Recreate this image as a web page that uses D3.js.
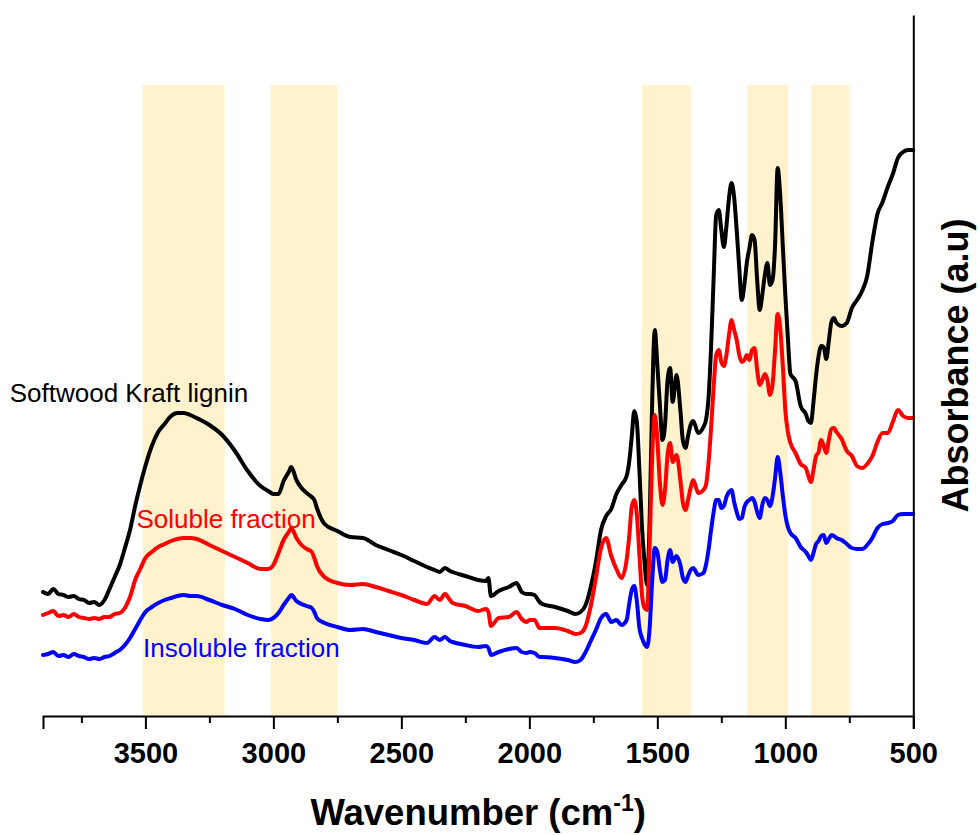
<!DOCTYPE html>
<html>
<head>
<meta charset="utf-8">
<script src="https://cdn.jsdelivr.net/npm/d3@7"></script>
<style>
  html, body { margin: 0; padding: 0; background: #fff; }
  svg { display: block; font-family: "Liberation Sans", Arial, sans-serif; }
</style>
</head>
<body>
<svg id="chart" width="980" height="835"></svg>
<script>
// FTIR spectra of softwood Kraft lignin and its two fractions (absorbance, arbitrary units)
const wavenumbers = [
  3900,3880,3860,3840,3820,3800,3780,3760,3740,3720,3700,3680,3660,3640,3620,3600,
  3580,3560,3540,3520,3500,
  3475,3450,3425,3400,3375,3350,3325,3300,
  3250,3200,3150,3100,3050,
  3020,3000,2980,2960,2940,2930,2910,2890,2870,2850,2840,2830,2800,
  2750,2700,2650,2600,2550,2500,2450,2400,
  2370,2350,2330,2310,2300,2250,2200,2170,2160,2150,2120,2080,2050,2030,2010,2000,1980,1960,1950,1900,1850,1820,1800,
  1780,1760,1740,1720,1700,1680,1660,1640,1620,
  1610,1600,1590,1580,1570,1560,1550,1540,1530,1520,1510,1500,1490,1480,1470,1460,1450,1440,
  1425,1410,1400,1390,1380,1370,1360,1340,1320,1310,
  1300,1290,1280,1270,1260,1250,1240,1230,1220,1210,1200,1190,1180,1170,1160,1150,1140,1130,1120,1110,1100,1090,1080,1070,1060,1050,1040,1030,1020,1010,1000,
  990,980,960,940,920,910,900,890,880,870,860,850,840,830,820,810,800,
  780,760,740,720,700,680,660,640,620,600,580,560,540,520,500
];

const kraftLignin = [
  .124,.122,.127,.122,.121,.119,.120,.117,.116,.113,.114,.111,.116,.127,.139,.151,
  .168,.186,.210,.231,.250,
  .270,.284,.292,.300,.303,.303,.301,.298,
  .291,.281,.265,.245,.230,
  .225,.222,.222,.235,.244,.249,.236,.228,.223,.219,.216,.208,.192,
  .185,.179,.178,.171,.166,.161,.155,.149,
  .146,.144,.148,.145,.144,.140,.136,.135,.138,.120,.125,.129,.133,.124,.122,.122,.121,.114,.112,.109,.105,.102,.104,
  .111,.129,.154,.186,.200,.207,.222,.231,.240,
  .254,.279,.305,.294,.246,.189,.154,.131,.196,.316,.386,.351,.311,.276,.291,.336,.348,.314,
  .341,.306,.275,.268,.280,.291,.295,.283,.289,.296,
  .318,.369,.438,.501,.506,.486,.469,.490,.518,.533,.519,.486,.448,.416,.431,.454,.468,.481,.476,.436,.406,.421,.441,.453,.431,.436,.471,.548,.521,.471,.421,
  .378,.342,.335,.310,.302,.295,.293,.314,.340,.360,.370,.369,.357,.375,.394,.398,.393,
  .390,.393,.408,.416,.425,.440,.474,.502,.514,.529,.542,.558,.564,.566,.566
];

const solubleFraction = [
  .101,.103,.105,.100,.101,.099,.102,.099,.098,.097,.098,.097,.099,.099,.102,.103,
  .108,.119,.136,.147,.158,
  .164,.169,.172,.175,.177,.178,.178,.177,
  .171,.165,.159,.153,.147,
  .147,.151,.163,.176,.184,.188,.178,.171,.167,.164,.158,.150,.139,
  .133,.131,.132,.129,.125,.121,.116,.112,
  .120,.116,.122,.116,.113,.110,.105,.107,.104,.090,.098,.099,.104,.097,.094,.096,.096,.088,.088,.088,.085,.082,.083,
  .090,.110,.138,.168,.178,.160,.147,.138,.156,
  .179,.209,.216,.201,.161,.121,.108,.106,.171,.261,.301,.276,.233,.211,.226,.261,.273,.254,
  .261,.236,.213,.206,.216,.228,.236,.223,.226,.231,
  .253,.288,.329,.361,.366,.354,.350,.361,.381,.396,.386,.376,.361,.354,.356,.361,.356,.366,.368,.346,.331,.336,.342,.336,.321,.331,.366,.402,.388,.351,.306,
  .284,.273,.263,.252,.248,.240,.234,.246,.260,.264,.276,.270,.263,.276,.287,.288,.284,
  .277,.265,.260,.250,.248,.252,.260,.274,.283,.283,.294,.306,.300,.298,.298
];

const insolubleFraction = [
  .061,.062,.064,.060,.061,.059,.062,.060,.059,.057,.058,.057,.059,.060,.063,.066,
  .071,.078,.087,.096,.104,
  .109,.113,.116,.118,.120,.121,.120,.120,
  .116,.111,.107,.101,.097,
  .096,.098,.103,.111,.118,.121,.115,.112,.110,.108,.104,.098,.093,
  .089,.086,.087,.084,.081,.078,.076,.073,
  .079,.076,.079,.075,.074,.071,.069,.070,.068,.061,.064,.067,.068,.064,.063,.064,.063,.059,.059,.058,.056,.054,.056,
  .064,.075,.086,.098,.102,.094,.096,.091,.096,
  .112,.126,.130,.115,.088,.078,.072,.069,.088,.136,.168,.164,.146,.134,.136,.156,.166,.154,
  .160,.151,.138,.134,.140,.146,.148,.141,.143,.151,
  .166,.186,.204,.216,.216,.208,.210,.219,.224,.226,.214,.204,.197,.198,.209,.214,.216,.218,.214,.204,.198,.211,.218,.216,.210,.219,.238,.259,.244,.221,.201,
  .189,.183,.178,.169,.164,.160,.156,.163,.172,.175,.180,.181,.173,.177,.181,.180,.178,
  .176,.172,.168,.167,.167,.171,.178,.188,.192,.193,.195,.201,.202,.202,.202
];

// Highlighted absorption regions (cm-1)
const bandRanges = [[3510, 3190], [3010, 2750], [1560, 1370], [1150, 990], [900, 750]];
const bandTop = 0.631;

const majorTicks = [3500, 3000, 2500, 2000, 1500, 1000, 500];
const minorTicks = [3750, 3250, 2750, 2250, 1750, 1250, 750];

const seriesNames = ["Softwood Kraft lignin", "Soluble fraction", "Insoluble fraction"];
const seriesColors = ["#000000", "#ff0000", "#0000ff"];
// label anchor points (wavenumber, absorbance)
const labelWavenumbers = [4030, 3535, 3509];
const labelValues = [0.314, 0.188, 0.059];

const margin = { top: 15, right: 67, bottom: 119, left: 43 };
const width = 980, height = 835;
const svg = d3.select("#chart");

const x = d3.scaleLinear().domain([3900, 500]).range([margin.left, width - margin.right + 0.3]);
const y = d3.scaleLinear().domain([0, 0.701]).range([height - margin.bottom, margin.top]);

// shaded bands
svg.append("g").selectAll("rect")
  .data(bandRanges)
  .join("rect")
  .attr("x", d => x(d[0]))
  .attr("width", d => x(d[1]) - x(d[0]))
  .attr("y", y(bandTop))
  .attr("height", y(0) - y(bandTop))
  .attr("fill", "#fff2cc");

// spectra
const series = [kraftLignin, solubleFraction, insolubleFraction];
const line = d3.line()
  .x((d, i) => x(wavenumbers[i]))
  .y(d => y(d))
  .curve(d3.curveMonotoneX);

svg.append("g").selectAll("path")
  .data(series)
  .join("path")
  .attr("d", d => line(d))
  .attr("fill", "none")
  .attr("stroke", (d, i) => seriesColors[i])
  .attr("stroke-width", 4)
  .attr("stroke-linejoin", "round")
  .attr("stroke-linecap", "round");

// series labels
svg.append("g").selectAll("text")
  .data(seriesNames)
  .join("text")
  .attr("x", (d, i) => x(labelWavenumbers[i]))
  .attr("y", (d, i) => y(labelValues[i]))
  .attr("fill", (d, i) => seriesColors[i])
  .attr("font-size", 26)
  .text(d => d);

// bottom axis: major ticks with labels
const xAxis = svg.append("g")
  .attr("transform", `translate(0,${y(0)})`)
  .call(d3.axisBottom(x).tickValues(majorTicks).tickSize(13).tickPadding(13).tickFormat(d3.format("d")));
xAxis.select(".domain").attr("stroke-width", 2);
xAxis.selectAll(".tick line").attr("stroke-width", 2);
xAxis.selectAll(".tick text")
  .attr("font-size", 29)
  .attr("font-weight", "bold")
  .attr("font-family", "Liberation Sans, Arial, sans-serif")
  .attr("fill", "#000");

// bottom axis: minor ticks
const xMinor = svg.append("g")
  .attr("transform", `translate(0,${y(0)})`)
  .call(d3.axisBottom(x).tickValues(minorTicks).tickSize(7).tickFormat(""));
xMinor.select(".domain").remove();
xMinor.selectAll(".tick line").attr("stroke-width", 2);

// right axis line (no ticks)
const yAxis = svg.append("g")
  .attr("transform", `translate(${x(500)},0)`)
  .call(d3.axisRight(y).tickValues([]).tickSizeOuter(0));
yAxis.select(".domain").attr("stroke-width", 2);

// axis titles
const xTitle = svg.append("text")
  .attr("x", (x(3900) + x(500)) / 2)
  .attr("y", 825)
  .attr("text-anchor", "middle")
  .attr("font-size", 36.5)
  .attr("font-weight", "bold");
xTitle.append("tspan").text("Wavenumber (cm");
xTitle.append("tspan").attr("font-size", 23).attr("dy", -14).text("-1");
xTitle.append("tspan").attr("dy", 14).text(")");

svg.append("text")
  .attr("transform", `translate(968,${(y(0) + y(0.701)) / 2}) rotate(-90)`)
  .attr("text-anchor", "middle")
  .attr("font-size", 36)
  .attr("font-weight", "bold")
  .text("Absorbance (a.u)");
</script>
</body>
</html>
